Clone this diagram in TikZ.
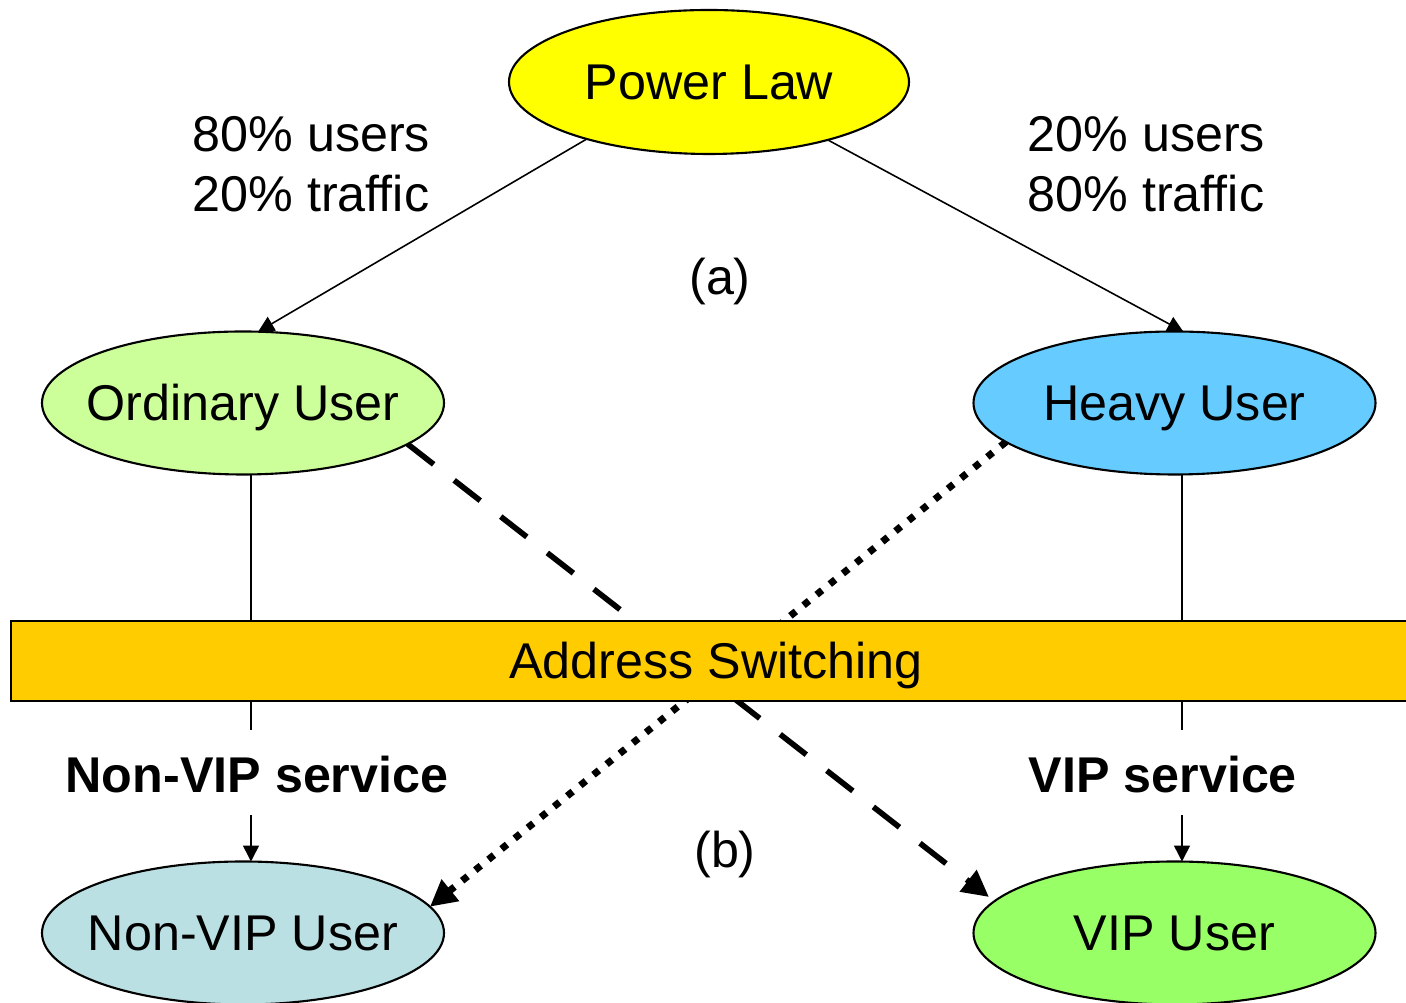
\documentclass[tikz,border=0pt]{standalone}
\usepackage{fontspec}
\setmainfont{Liberation Sans}
\usetikzlibrary{shapes.geometric,arrows.meta}
\definecolor{lawfill}{HTML}{FFFF00}
\definecolor{ordfill}{HTML}{CCFF99}
\definecolor{heavyfill}{HTML}{66CCFF}
\definecolor{nonvipfill}{HTML}{BBE0E3}
\definecolor{vipfill}{HTML}{99FF66}
\definecolor{switchfill}{HTML}{FFCC00}
% zero-width text box so the ellipse keeps its set size
\newcommand\ctext[1]{\makebox[0pt][c]{#1}}
\begin{document}
\begin{tikzpicture}[x=1cm,y=1cm,
  font=\fontsize{14.3}{17}\selectfont,
  bubble/.style={ellipse, draw, line width=0.6pt, minimum width=4.02cm,
    minimum height=1.43cm, inner sep=0pt, outer sep=0pt,
    text height=1.0em, text depth=0pt},
  txt/.style={inner sep=0pt},
  fine/.style={line width=0.45pt},
  finearrow/.style={fine, -{Triangle[length=4.5pt,width=4.5pt]}},
  dasharrow/.style={line width=1.6pt, dash pattern=on 9.4pt off 7.4pt,
    -{Triangle[length=7.5pt,width=7.5pt]}},
  dotarrow/.style={line width=2pt, dash pattern=on 2pt off 2.8pt,
    -{Triangle[length=7.5pt,width=7.5pt]}}]
\useasboundingbox (0,0) rectangle (14.06,-10.03);

% user classes
\node[bubble, fill=lawfill, minimum width=4.0cm, minimum height=1.44cm] (pl) at (7.09,-0.82) {\ctext{Power Law}};
\node[bubble, fill=ordfill] (ou) at (2.43,-4.03) {\ctext{Ordinary User}};
\node[bubble, fill=heavyfill] (hu) at (11.745,-4.03) {\ctext{Heavy User}};
\node[bubble, fill=nonvipfill] (nv) at (2.43,-9.33) {\ctext{Non-VIP User}};
\node[bubble, fill=vipfill] (vu) at (11.745,-9.33) {\ctext{VIP User}};

% split of the power law
\draw[finearrow] (pl.205.4) -- (ou.78);
\draw[finearrow] (pl.-26.8) -- (hu.83.6);

\node[txt, anchor=base west] (ousers) at (1.92,-1.52) {80\% users};
\node[txt, anchor=base west] (otraffic) at (1.92,-2.12) {20\% traffic};
\node[txt, anchor=base west] (husers) at (10.27,-1.52) {20\% users};
\node[txt, anchor=base west] (htraffic) at (10.27,-2.12) {80\% traffic};
\node[txt, anchor=base] (capa) at (7.20,-2.95) {(a)};

% service paths through the switch
\coordinate (lstop) at (2.51,-7.30);
\coordinate (lsarr) at (2.51,-8.15);
\coordinate (rstop) at (11.82,-7.30);
\coordinate (rsarr) at (11.82,-8.15);
\draw[fine] (ou.south -| lstop) -- (lstop);
\draw[finearrow] (lsarr) -- (lsarr |- nv.north);
\draw[fine] (hu.south -| rstop) -- (rstop);
\draw[finearrow] (rsarr) -- (rsarr |- vu.north);

\draw[dasharrow, shorten >=2pt] (ou.-14) -- (vu.170);
\draw[dotarrow] (hu.193.5) -- (nv.8);

% switching layer
\node[draw, fill=switchfill, line width=0.6pt, anchor=north west,
  minimum width=14.6cm, minimum height=0.8cm, inner sep=0pt] (sw) at (0.10,-6.20) {};
\node[txt, text height=0.84em, text depth=0pt] (swlabel) at (7.16,-6.64) {Address Switching};

\node[txt, anchor=base west, font=\fontsize{14.3}{17}\selectfont\bfseries] (nvs) at (0.65,-7.93) {Non-VIP service};
\node[txt, anchor=base west, font=\fontsize{14.3}{17}\selectfont\bfseries] (vs) at (10.28,-7.93) {VIP service};
\node[txt, anchor=base] (capb) at (7.25,-8.68) {(b)};
\end{tikzpicture}
\end{document}
